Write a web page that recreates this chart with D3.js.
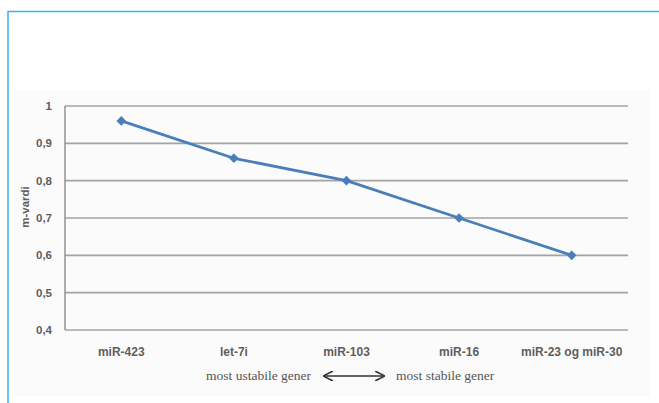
<!DOCTYPE html>
<html>
<head>
<meta charset="utf-8">
<script src="https://cdn.jsdelivr.net/npm/d3@7"></script>
<style>
  html, body { margin: 0; padding: 0; background: #fff; }
  svg { display: block; }
</style>
</head>
<body>
<svg id="chart" width="659" height="403"></svg>
<script>
// m-values per reference gene, ordered from least to most stable
const categories = ["miR-423", "let-7i", "miR-103", "miR-16", "miR-23 og miR-30"];
const mValues = [0.96, 0.86, 0.80, 0.70, 0.60];
const yTicks = [0.4, 0.5, 0.6, 0.7, 0.8, 0.9, 1];
const yTickLabels = ["0,4", "0,5", "0,6", "0,7", "0,8", "0,9", "1"];
const yTitle = "m-vardi";
const leftNote = "most ustabile gener";
const rightNote = "most stabile gener";

const svg = d3.select("#chart");

// light blue frame around the figure
svg.append("path")
  .attr("d", "M8,403 V11.5 H659")
  .attr("fill", "none")
  .attr("stroke", "#35b6ec")
  .attr("stroke-width", 1.5);

// faint panel behind the chart
svg.append("rect")
  .attr("x", 14).attr("y", 90).attr("width", 636).attr("height", 306)
  .attr("fill", "#fbfbfb");

const plot = { left: 65, right: 628, top: 106, bottom: 330 };

const x = d3.scaleBand().domain(categories).range([plot.left, plot.right]);
const y = d3.scaleLinear().domain([0.4, 1]).range([plot.bottom, plot.top]);

const labelFont = "Liberation Sans, Arial, sans-serif";
const labelColor = "#5e5e5e";

// horizontal gridlines
svg.append("g")
  .selectAll("line")
  .data(yTicks)
  .join("line")
  .attr("x1", plot.left).attr("x2", plot.right)
  .attr("y1", d => y(d)).attr("y2", d => y(d))
  .attr("stroke", "#a3a3a3")
  .attr("stroke-width", 1.7);

// left axis line
svg.append("line")
  .attr("x1", plot.left).attr("x2", plot.left)
  .attr("y1", plot.top).attr("y2", plot.bottom)
  .attr("stroke", "#8c8c8c").attr("stroke-width", 1.4);

// y tick labels
svg.append("g")
  .selectAll("text")
  .data(yTicks)
  .join("text")
  .attr("x", plot.left - 13)
  .attr("y", d => y(d) + 4)
  .attr("text-anchor", "end")
  .attr("font-family", labelFont)
  .attr("font-size", 11.5)
  .attr("font-weight", "bold")
  .attr("fill", labelColor)
  .text((d, i) => yTickLabels[i]);

// y axis title
svg.append("text")
  .attr("transform", `translate(29,207) rotate(-90)`)
  .attr("text-anchor", "middle")
  .attr("font-family", labelFont)
  .attr("font-size", 11.5)
  .attr("font-weight", "bold")
  .attr("fill", labelColor)
  .text(yTitle);

// category labels
svg.append("g")
  .selectAll("text")
  .data(categories)
  .join("text")
  .attr("x", d => x(d) + x.bandwidth() / 2)
  .attr("y", 356)
  .attr("text-anchor", "middle")
  .attr("font-family", labelFont)
  .attr("font-size", 12)
  .attr("font-weight", "bold")
  .attr("fill", labelColor)
  .text(d => d);

// data line
const line = d3.line()
  .x((d, i) => x(categories[i]) + x.bandwidth() / 2)
  .y(d => y(d));

svg.append("path")
  .datum(mValues)
  .attr("d", line)
  .attr("fill", "none")
  .attr("stroke", "#4a7ebb")
  .attr("stroke-width", 2.8)
  .attr("stroke-linejoin", "round");

// diamond markers
svg.append("g")
  .selectAll("path")
  .data(mValues)
  .join("path")
  .attr("transform", (d, i) => `translate(${x(categories[i]) + x.bandwidth() / 2},${y(d)})`)
  .attr("d", d3.symbol().type(d3.symbolDiamond2).size(60))
  .attr("fill", "#4a7ebb");

// stability annotation with double-headed arrow
const noteY = 380;
svg.append("text")
  .attr("x", 311).attr("y", noteY)
  .attr("text-anchor", "end")
  .attr("font-family", "Liberation Serif, Times New Roman, serif")
  .attr("font-size", 13.5)
  .attr("fill", "#555")
  .text(leftNote);
svg.append("text")
  .attr("x", 396).attr("y", noteY)
  .attr("text-anchor", "start")
  .attr("font-family", "Liberation Serif, Times New Roman, serif")
  .attr("font-size", 13.5)
  .attr("fill", "#555")
  .text(rightNote);

const defs = svg.append("defs");
defs.append("marker")
  .attr("id", "head")
  .attr("viewBox", "0 0 10 10")
  .attr("refX", 9).attr("refY", 5)
  .attr("markerWidth", 7).attr("markerHeight", 7)
  .attr("orient", "auto-start-reverse")
  .append("path")
  .attr("d", "M0,0 L10,5 L0,10")
  .attr("fill", "none")
  .attr("stroke", "#333")
  .attr("stroke-width", 1.6);

svg.append("line")
  .attr("x1", 324).attr("x2", 384)
  .attr("y1", noteY - 4).attr("y2", noteY - 4)
  .attr("stroke", "#333")
  .attr("stroke-width", 1.4)
  .attr("marker-start", "url(#head)")
  .attr("marker-end", "url(#head)");
</script>
</body>
</html>
